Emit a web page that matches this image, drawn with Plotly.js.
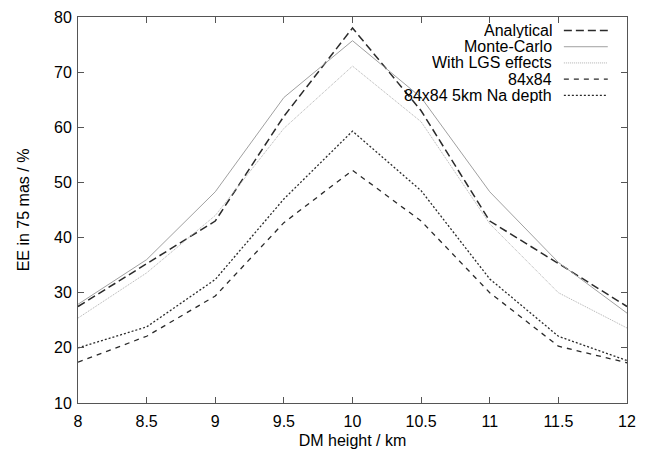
<!DOCTYPE html>
<html>
<head>
<meta charset="utf-8">
<script src="https://cdn.plot.ly/plotly-3.0.1.min.js"></script>
<style>html,body{margin:0;padding:0;background:#fff;}#chart{width:652px;height:452px;}</style>
</head>
<body>
<div id="chart"></div>
<script>
var dmHeight = [8, 8.5, 9, 9.5, 10, 10.5, 11, 11.5, 12];
var analytical = [27.5, 35.3, 43, 62, 78, 63, 43, 35.3, 27.5];
var monteCarlo = [27.9, 36, 48.3, 65.4, 75.7, 65.4, 48.3, 35.5, 26.3];
var withLGS = [25.4, 33.6, 44, 59.8, 71.1, 61, 42.5, 30, 23.6];
var grid84 = [17.4, 22.1, 29.4, 42.7, 52.2, 43, 30, 20.3, 17.3];
var grid84Na = [20, 23.8, 32.4, 47, 59.3, 48.5, 32.5, 22.1, 17.7];
var seriesNames = ["Analytical", "Monte-Carlo", "With LGS effects", "84x84", "84x84 5km Na depth"];
var xTicks = [8, 8.5, 9, 9.5, 10, 10.5, 11, 11.5, 12];
var yTicks = [10, 20, 30, 40, 50, 60, 70, 80];

var styles = [
  {color: "#2a2a2a", width: 1.5, dash: "8px,4px"},
  {color: "#a0a0a0", width: 1, dash: "solid"},
  {color: "#b0b0b0", width: 1, dash: "1px,1px"},
  {color: "#2a2a2a", width: 1.3, dash: "5px,5px"},
  {color: "#2a2a2a", width: 1.3, dash: "2px,2px"}
];
var allY = [analytical, monteCarlo, withLGS, grid84, grid84Na];

var traces = allY.map(function (ys, i) {
  return {x: dmHeight, y: ys, type: "scatter", mode: "lines", name: seriesNames[i],
          line: styles[i], showlegend: false, hoverinfo: "skip"};
});

var font = {family: "Liberation Sans, Arial, sans-serif", size: 16, color: "#000"};
var annotations = [];
var shapes = [];
var rowY = [0.965, 0.923, 0.881, 0.839, 0.797];
seriesNames.forEach(function (n, i) {
  annotations.push({xref: "paper", yref: "paper", x: 0.866, y: rowY[i], text: n,
    showarrow: false, xanchor: "right", yanchor: "middle", font: font,
    borderpad: 0, height: 15, valign: "middle"});
  shapes.push({type: "line", xref: "paper", yref: "paper", x0: 0.885, x1: 0.965,
    y0: rowY[i], y1: rowY[i], line: styles[i]});
});

var axisCommon = {showgrid: false, zeroline: false, showline: true, linecolor: "#555",
  linewidth: 1, mirror: "ticks", ticks: "inside", ticklen: 6, tickcolor: "#555",
  tickfont: font};

var layout = {
  width: 652, height: 452,
  margin: {l: 78, r: 25, t: 17, b: 49},
  paper_bgcolor: "#fff", plot_bgcolor: "#fff",
  font: font,
  xaxis: Object.assign({}, axisCommon, {range: [8, 12], tickvals: xTicks,
    ticktext: xTicks.map(String), ticklabelstandoff: 4,
    title: {text: "DM height / km", font: font, standoff: 5}}),
  yaxis: Object.assign({}, axisCommon, {range: [10, 80], tickvals: yTicks,
    ticktext: yTicks.map(String), ticklabelstandoff: 2,
    title: {text: "EE in 75 mas / %", font: font, standoff: 20}}),
  annotations: annotations,
  shapes: shapes
};
Plotly.newPlot("chart", traces, layout, {displayModeBar: false, staticPlot: true});
</script>
</body>
</html>
